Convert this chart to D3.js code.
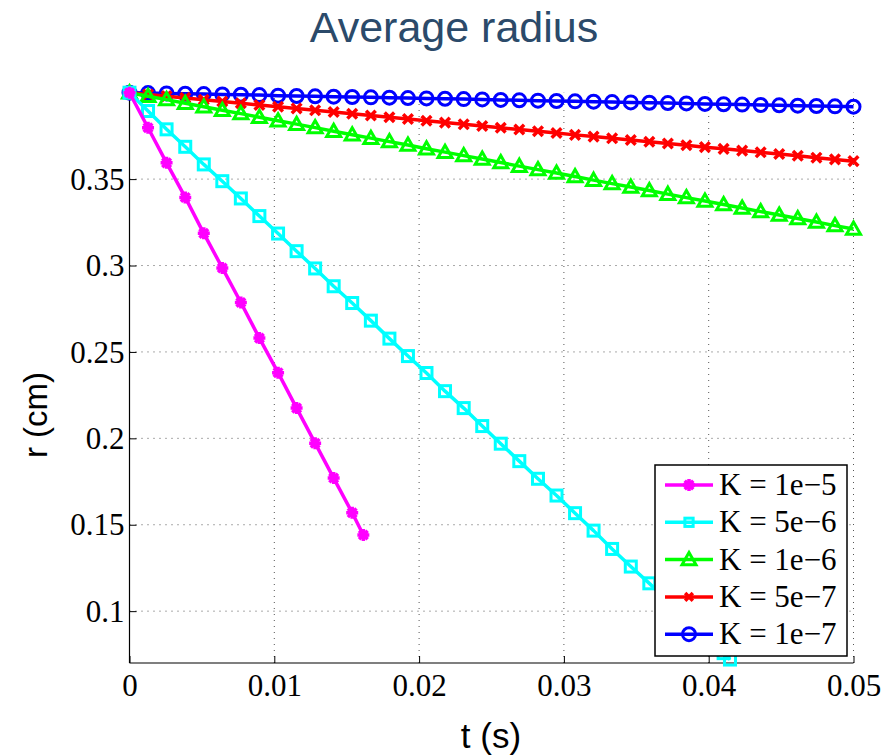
<!DOCTYPE html>
<html><head><meta charset="utf-8">
<script src="https://cdn.jsdelivr.net/npm/d3@7"></script>
<style>html,body{margin:0;padding:0;background:#fff;}svg{display:block;}</style>
</head><body>
<script>
// ---- data ----
const tFull = [0,0.00128,0.00256,0.00385,0.00513,0.00641,0.00769,0.00897,0.01026,0.01154,
  0.01282,0.01410,0.01538,0.01667,0.01795,0.01923,0.02051,0.02179,0.02308,0.02436,
  0.02564,0.02692,0.02821,0.02949,0.03077,0.03205,0.03333,0.03462,0.03590,0.03718,
  0.03846,0.03974,0.04103,0.04231,0.04359,0.04487,0.04615,0.04744,0.04872,0.05];
const tK1e5 = [0,0.00128,0.00256,0.00385,0.00513,0.00641,0.00769,0.00897,0.01026,0.01154,0.01282,0.01410,0.01538,0.01615];
const rK1e5 = [0.4000,0.3797,0.3594,0.3394,0.3186,0.2986,0.2786,0.2580,0.2380,0.2175,0.1972,0.1770,0.1569,0.1441];
const tK5e6 = [0,0.00128,0.00256,0.00385,0.00513,0.00641,0.00769,0.00897,0.01026,0.01154,
  0.01282,0.01410,0.01538,0.01667,0.01795,0.01923,0.02051,0.02179,0.02308,0.02436,
  0.02564,0.02692,0.02821,0.02949,0.03077,0.03205,0.03333,0.03462,0.03590,0.03718,
  0.03846,0.03974,0.04103,0.04147];
const rK5e6 = [0.4000,0.3894,0.3788,0.3687,0.3585,0.3488,0.3388,0.3286,0.3185,0.3083,
  0.2983,0.2880,0.2783,0.2681,0.2577,0.2476,0.2378,0.2273,0.2175,0.2071,
  0.1969,0.1868,0.1766,0.1669,0.1567,0.1466,0.1360,0.1258,0.1161,0.1060,
  0.0959,0.0858,0.0757,0.0720];
const rK1e6 = [0.4000,0.3980,0.3960,0.3939,0.3919,0.3899,0.3879,0.3858,0.3838,0.3818,
  0.3798,0.3777,0.3757,0.3737,0.3717,0.3697,0.3676,0.3656,0.3636,0.3616,
  0.3596,0.3575,0.3555,0.3535,0.3515,0.3494,0.3474,0.3454,0.3434,0.3413,
  0.3393,0.3373,0.3353,0.3333,0.3312,0.3292,0.3272,0.3252,0.3231,0.3211];
const rK5e7 = [0.4000,0.3990,0.3980,0.3970,0.3959,0.3949,0.3939,0.3929,0.3919,0.3909,
  0.3898,0.3888,0.3878,0.3868,0.3858,0.3848,0.3838,0.3827,0.3817,0.3807,
  0.3797,0.3787,0.3777,0.3767,0.3756,0.3746,0.3736,0.3726,0.3716,0.3706,
  0.3696,0.3685,0.3675,0.3665,0.3655,0.3645,0.3635,0.3624,0.3614,0.3604];
const rK1e7 = [0.4000,0.3998,0.3996,0.3994,0.3992,0.3990,0.3988,0.3986,0.3983,0.3981,
  0.3979,0.3977,0.3975,0.3973,0.3971,0.3969,0.3967,0.3965,0.3963,0.3961,
  0.3958,0.3956,0.3954,0.3952,0.3950,0.3948,0.3946,0.3944,0.3942,0.3940,
  0.3938,0.3935,0.3933,0.3931,0.3929,0.3927,0.3925,0.3923,0.3921,0.3919];
const seriesNames = ["K = 1e\u22125","K = 5e\u22126","K = 1e\u22126","K = 5e\u22127","K = 1e\u22127"];
const xTicks = [0,0.01,0.02,0.03,0.04,0.05];
const yTicks = [0.1,0.15,0.2,0.25,0.3,0.35];
const titleText = "Average radius";
const xLabel = "t (s)";
const yLabel = "r (cm)";

// ---- layout ----
const W = 883, H = 756;
const x = d3.scaleLinear().domain([0,0.05]).range([129.5,853.5]);
const y = d3.scaleLinear().domain([0.07,0.4]).range([663,92.7]);

const series = [
  {name:seriesNames[0], t:tK1e5, r:rK1e5, color:"#ff00ff", marker:"star"},
  {name:seriesNames[1], t:tK5e6, r:rK5e6, color:"#00ffff", marker:"square"},
  {name:seriesNames[2], t:tFull, r:rK1e6, color:"#00ff00", marker:"triangle"},
  {name:seriesNames[3], t:tFull, r:rK5e7, color:"#ff0000", marker:"x"},
  {name:seriesNames[4], t:tFull, r:rK1e7, color:"#0000ff", marker:"circle"}
];

const svg = d3.select("body").append("svg").attr("width",W).attr("height",H);

// title
svg.append("text").attr("x",454).attr("y",42).attr("text-anchor","middle")
  .style("font-family","'Liberation Sans', Arial, sans-serif").style("font-size","43px")
  .attr("fill","#2b4a6a").text(titleText);

// grid
const g = svg.append("g");
xTicks.forEach(v=>{ if(v>0) g.append("line").attr("x1",x(v)).attr("x2",x(v)).attr("y1",y(0.07)).attr("y2",y(0.4))
  .attr("stroke","#555").attr("stroke-width",1).attr("stroke-dasharray","1,5"); });
yTicks.forEach(v=>{ g.append("line").attr("x1",x(0)).attr("x2",x(0.05)).attr("y1",y(v)).attr("y2",y(v))
  .attr("stroke","#555").attr("stroke-width",1).attr("stroke-dasharray","1,5"); });

// axes
const xAxis = d3.axisBottom(x).tickValues(xTicks).tickSize(-7).tickPadding(12).tickFormat(d=>d===0?"0":d3.format(".2f")(d));
const yAxis = d3.axisLeft(y).tickValues(yTicks).tickSize(-7).tickPadding(12).tickFormat(d=>d3.format("")(+d.toFixed(2)));
const gx = svg.append("g").attr("transform",`translate(0,${y(0.07)})`).call(xAxis);
const gy = svg.append("g").attr("transform",`translate(${x(0)},0)`).call(yAxis);
[gx,gy].forEach(a=>{
  a.select(".domain").attr("stroke","#000").attr("stroke-width",1.2);
  a.selectAll(".tick line").attr("stroke","#000").attr("stroke-width",1);
  a.selectAll(".tick text").style("font-family","'Liberation Serif','Times New Roman',serif")
    .style("font-size","31px").attr("fill","#000");
});
gy.select(".domain").attr("d",`M0,${y(0.07)}V${y(0.4)}`);
gx.select(".domain").attr("d",`M${x(0)},0H${x(0.05)}`);
gx.selectAll(".tick text").attr("dy","0.71em").attr("y",11);
gy.selectAll(".tick text").attr("x",-5).attr("dy","0.33em");

// axis labels
svg.append("text").attr("x",491).attr("y",748).attr("text-anchor","middle")
  .style("font-family","'Liberation Sans', Arial, sans-serif").style("font-size","35px").text(xLabel);
svg.append("text").attr("transform","translate(47,415) rotate(-90)").attr("text-anchor","middle")
  .style("font-family","'Liberation Sans', Arial, sans-serif").style("font-size","33px").text(yLabel);

// markers
function drawMarker(sel, type, color, cx, cy, scale){
  const s = scale||1;
  if(type==="star"){
    const a=6*s, b=4.3*s;
    const p = `M${cx-a},${cy}L${cx+a},${cy}M${cx},${cy-a}L${cx},${cy+a}M${cx-b},${cy-b}L${cx+b},${cy+b}M${cx-b},${cy+b}L${cx+b},${cy-b}`;
    sel.append("path").attr("d",p).attr("stroke",color).attr("stroke-width",3.5).attr("fill","none");
  } else if(type==="square"){
    const a=5.5*s;
    sel.append("rect").attr("x",cx-a).attr("y",cy-a).attr("width",2*a).attr("height",2*a)
      .attr("fill","none").attr("stroke",color).attr("stroke-width",3);
  } else if(type==="triangle"){
    const a=7*s;
    sel.append("path").attr("d",`M${cx},${cy-a}L${cx+a},${cy+a*0.75}L${cx-a},${cy+a*0.75}Z`)
      .attr("fill","none").attr("stroke",color).attr("stroke-width",3);
  } else if(type==="x"){
    const a=4.8*s;
    sel.append("path").attr("d",`M${cx-a},${cy-a}L${cx+a},${cy+a}M${cx-a},${cy+a}L${cx+a},${cy-a}`)
      .attr("stroke",color).attr("stroke-width",3.5).attr("fill","none");
  } else if(type==="circle"){
    sel.append("circle").attr("cx",cx).attr("cy",cy).attr("r",6.5*s)
      .attr("fill","none").attr("stroke",color).attr("stroke-width",3);
  }
}

// series (draw blue first, magenta last)
const line = d3.line().x(d=>x(d[0])).y(d=>y(d[1]));
series.slice().reverse().forEach(s=>{
  const pts = s.t.map((t,i)=>[t,s.r[i]]);
  const sg = svg.append("g");
  sg.append("path").attr("d",line(pts)).attr("fill","none").attr("stroke",s.color)
    .attr("stroke-width",3.5).attr("stroke-linejoin","round");
  pts.forEach(p=>drawMarker(sg,s.marker,s.color,x(p[0]),y(p[1]),1));
});

// legend
const lg = svg.append("g");
lg.append("rect").attr("x",655).attr("y",465).attr("width",192).attr("height",191)
  .attr("fill","#fff").attr("stroke","#000").attr("stroke-width",1.5);
series.forEach((s,i)=>{
  const cy = 485 + i*37.3;
  lg.append("line").attr("x1",665).attr("x2",713).attr("y1",cy).attr("y2",cy)
    .attr("stroke",s.color).attr("stroke-width",3.5);
  drawMarker(lg,s.marker,s.color,689,cy,s.marker==="square"?0.75:(s.marker==="x"?0.8:1));
  lg.append("text").attr("x",719).attr("y",cy+10)
    .style("font-family","'Liberation Serif','Times New Roman',serif").style("font-size","31px")
    .text(s.name);
});
</script>
</body></html>
